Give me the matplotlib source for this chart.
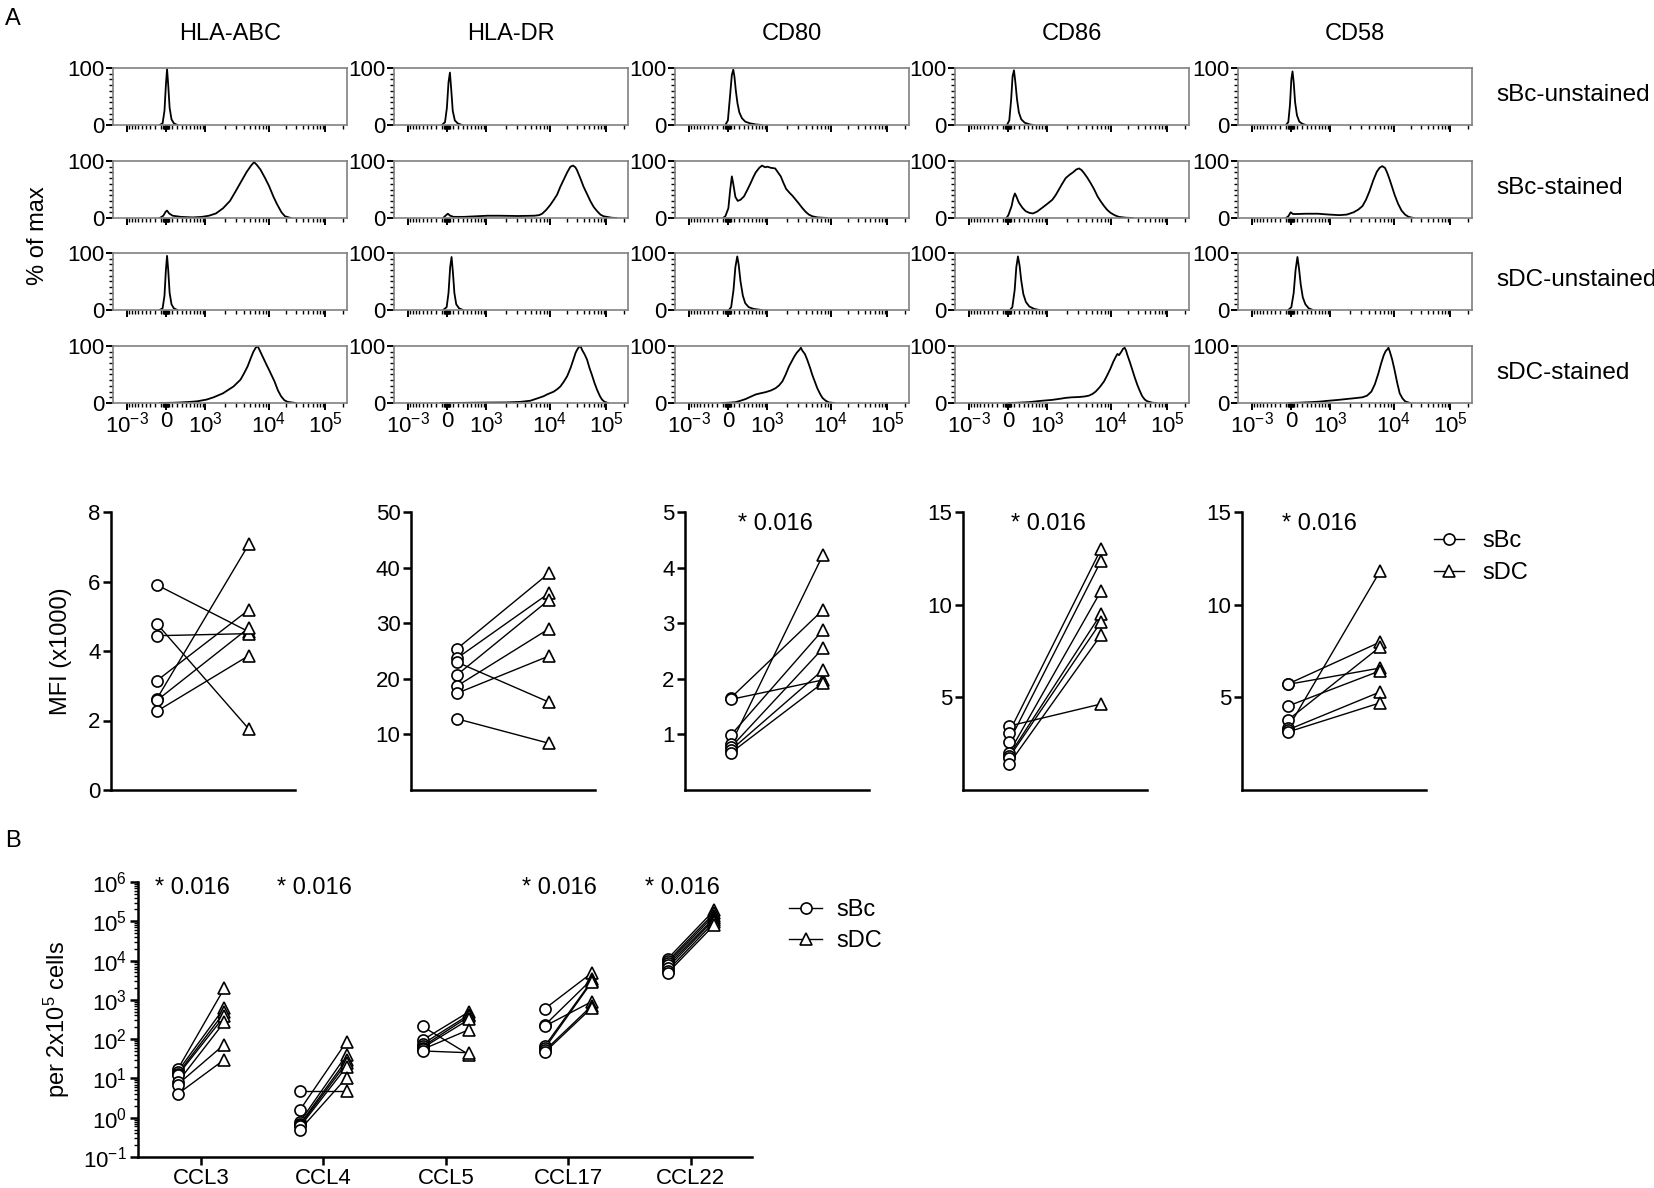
import numpy as np
import matplotlib
matplotlib.use('Agg')
import matplotlib.pyplot as plt
from matplotlib.lines import Line2D
from matplotlib.ticker import FixedLocator, NullFormatter, LogLocator

plt.rcParams['font.family'] = ['Liberation Sans', 'DejaVu Sans']
plt.rcParams['mathtext.default'] = 'regular'

# ---------------- data ----------------
markers = ['HLA-ABC', 'HLA-DR', 'CD80', 'CD86', 'CD58']
samples = ['sBc-unstained', 'sBc-stained', 'sDC-unstained', 'sDC-stained']

# histograms: (channel 0-1000 on the biex axis, % of max)
abc_bu = [(200,0),(212,3),(220,25),(226,70),(231,98),(236,70),(242,30),(250,10),(260,3),(275,0)]
abc_bs = [(200,0),(215,4),(225,11),(231,13),(240,8),(255,4),(290,2),(340,1),(380,2),(410,4),(440,8),(470,17),
          (500,30),(520,44),(545,62),(570,80),(590,92),(603,98),(615,93),(630,85),(650,70),(667,56),(685,38),
          (700,25),(720,10),(735,3),(760,0)]
abc_du = [(200,0),(212,3),(220,25),(226,70),(231,95),(236,70),(242,30),(250,10),(260,3),(275,0)]
abc_ds = [(200,0),(260,0.5),(290,1),(330,2),(360,3),(400,6),(430,10),(470,17),(515,29),(545,41),(560,52),
          (575,64),(590,80),(600,90),(610,97),(618,100),(625,94),(640,81),(655,68),(667,58),(690,38),(705,22),
          (718,12),(732,5),(746,2),(780,0)]

dr_bu = [(205,0),(218,5),(226,30),(233,75),(239,92),(245,60),(251,25),(260,8),(272,3),(290,0)]
dr_bs = [(210,0),(220,4),(230,7.5),(240,4),(255,2),(300,2),(350,3),(400,4),(450,4),(530,3.5),(600,4),(620,5),
         (633,7.5),(650,14),(668,23),(683,32),(697,41),(711,55),(725,67),(740,80),(754,90),(765,92),(775,89),
         (782,84),(796,70),(810,55),(825,42),(840,29),(854,19),(868,12),(882,6),(896,3),(930,0.5),(950,0)]
dr_du = [(210,0),(225,5),(233,30),(240,75),(246,93),(252,65),(258,30),(266,10),(278,3),(295,0)]
dr_ds = [(200,0),(300,0.3),(400,0.8),(480,1),(540,2),(583,4),(612,8),(640,12),(654,15),(683,20),(700,25),
         (711,29),(725,37),(740,47),(755,62),(768,78),(776,88),(782,93),(790,98),(797,100),(804,93),(815,85),
         (825,76),(835,62),(846,49),(857,35),(868,23),(880,12),(889,6),(900,2),(915,0)]

cd80_bu = [(215,0),(226,8),(235,50),(243,88),(249,97),(254,85),(260,60),(267,38),(275,22),(286,12),(300,6),
           (320,3),(345,1),(370,0)]
cd80_bs = [(205,0),(215,3),(228,17),(236,50),(243,73),(249,60),(258,37),(268,30),(280,32),(295,38),(310,50),
           (323,61),(335,72),(345,80),(360,88),(372,92),(385,89),(395,90),(410,88),(428,87),(440,80),(452,73),
           (463,62),(475,51),(490,44),(502,39),(516,32),(530,25),(545,17),(558,11),(572,6),(587,3),(610,1),(650,0)]
cd80_du = [(230,0),(240,5),(250,35),(258,75),(266,94),(272,80),(280,50),(290,25),(300,12),(315,5),(335,2),(370,0)]
cd80_ds = [(200,0),(230,0.5),(259,1.5),(280,4),(302,7),(323,11),(345,15),(365,17),(387,19),(410,22),(430,26),
           (445,31),(459,38),(473,50),(487,64),(500,74),(509,81),(520,88),(533,94),(538,97),(544,92),(555,86),
           (565,76),(577,62),(587,49),(598,37),(608,26),(620,16),(630,9),(644,4),(658,1),(680,0)]

cd86_bu = [(222,0),(232,8),(240,45),(246,85),(252,96),(258,75),(265,45),(273,22),(283,10),(298,4),(320,1),(335,0)]
cd86_bs = [(220,0),(228,5),(235,13),(242,21),(249,35),(256,43),(262,38),(273,27),(288,18),(302,12),(318,9),
           (333,8),(350,11),(373,18),(395,25),(416,32),(430,40),(444,50),(458,60),(473,70),(490,76),(504,80),
           (518,85),(530,87),(541,84),(551,79),(565,71),(580,61),(595,50),(609,38),(623,29),(637,21),(651,14),
           (665,9),(682,5),(700,2),(730,0.5),(760,0)]
cd86_du = [(235,0),(245,5),(255,35),(262,75),(269,94),(276,78),(283,52),(292,28),(303,14),(318,6),(338,2),(360,0)]
cd86_ds = [(230,0),(270,0.5),(316,1.5),(360,3.5),(416,5.5),(450,7.5),(473,9),(500,10),(530,10.5),(555,11.5),
           (573,13),(588,16),(601,20),(619,28),(637,38),(651,49),(665,61),(676,72),(687,81),(694,86),(701,84),
           (711,90),(718,95),(725,97),(731,92),(736,85),(747,72),(758,58),(768,45),(779,32),(790,21),(800,12),
           (811,6),(822,3),(843,0.5),(860,0)]

cd58_bu = [(205,0),(215,5),(222,35),(228,80),(233,94),(238,75),(244,40),(252,17),(262,6),(275,2),(290,0)]
cd58_bs = [(205,0),(215,3),(225,10),(235,7),(251,7),(290,7.5),(342,7.5),(390,6),(433,5),(465,6),(494,10),
           (515,15),(532,21),(547,32),(562,47),(578,66),(593,81),(605,88),(616,91),(628,88),(637,80),(646,70),
           (658,55),(669,41),(684,25),(699,13),(714,6),(729,2),(750,0)]
cd58_du = [(215,0),(228,5),(238,30),(246,70),(254,93),(261,72),(268,45),(277,22),(288,10),(302,3),(320,0)]
cd58_ds = [(215,0),(260,0.5),(312,1.5),(350,2.5),(388,4),(430,5.5),(464,7),(500,8.5),(532,10),(552,13),
           (570,20),(585,33),(600,52),(612,70),(623,84),(631,91),(638,94),(643,97),(649,90),(659,76),(669,58),
           (680,36),(691,17),(703,8),(714,3),(735,0)]

hists = [[abc_bu, abc_bs, abc_du, abc_ds],
         [dr_bu, dr_bs, dr_du, dr_ds],
         [cd80_bu, cd80_bs, cd80_du, cd80_ds],
         [cd86_bu, cd86_bs, cd86_du, cd86_ds],
         [cd58_bu, cd58_bs, cd58_du, cd58_ds]]

# MFI (x1000), paired sBc -> sDC
mfi_sbc_abc = [5.9, 4.78, 4.44, 3.15, 2.63, 2.58, 2.27]
mfi_sdc_abc = [4.55, 1.75, 4.5, 5.19, 7.08, 4.67, 3.87]
mfi_sbc_dr = [25.4, 23.7, 23.0, 20.7, 18.7, 17.4, 12.8]
mfi_sdc_dr = [39.0, 35.4, 15.8, 34.2, 29.0, 24.1, 8.4]
mfi_sbc_cd80 = [1.66, 1.63, 0.99, 0.83, 0.77, 0.72, 0.67]
mfi_sdc_cd80 = [3.24, 1.98, 2.88, 4.23, 2.55, 2.16, 1.93]
mfi_sbc_cd86 = [3.45, 3.1, 2.6, 2.0, 1.85, 1.75, 1.4]
mfi_sdc_cd86 = [4.64, 13.0, 12.36, 10.74, 9.5, 9.07, 8.36]
mfi_sbc_cd58 = [5.72, 5.70, 4.53, 3.78, 3.34, 3.25, 3.13]
mfi_sdc_cd58 = [7.98, 6.58, 6.43, 7.72, 11.8, 5.29, 4.7]
mfi_sbc = [mfi_sbc_abc, mfi_sbc_dr, mfi_sbc_cd80, mfi_sbc_cd86, mfi_sbc_cd58]
mfi_sdc = [mfi_sdc_abc, mfi_sdc_dr, mfi_sdc_cd80, mfi_sdc_cd86, mfi_sdc_cd58]
mfi_ymax = [8, 50, 5, 15, 15]
mfi_yticks = [[0, 2, 4, 6, 8], [10, 20, 30, 40, 50], [1, 2, 3, 4, 5], [5, 10, 15], [5, 10, 15]]
mfi_pval = [None, None, '* 0.016', '* 0.016', '* 0.016']

# chemokines per 2x10^5 cells
chemokines = ['CCL3', 'CCL4', 'CCL5', 'CCL17', 'CCL22']
ccl3_sbc = [17, 15, 13, 12, 8, 7, 4]
ccl3_sdc = [1950, 630, 480, 380, 270, 73, 30]
ccl4_sbc = [4.7, 1.6, 0.8, 0.7, 0.65, 0.6, 0.5]
ccl4_sdc = [4.7, 87, 40, 30, 25, 20, 10.5]
ccl5_sbc = [210, 95, 75, 65, 60, 55, 50]
ccl5_sdc = [40, 500, 420, 380, 320, 175, 45]
ccl17_sbc = [600, 230, 215, 68, 60, 52, 47]
ccl17_sdc = [4800, 3300, 900, 3000, 2800, 700, 620]
ccl22_sbc = [11000, 9500, 8500, 7500, 6500, 5500, 4800]
ccl22_sdc = [190000, 160000, 140000, 120000, 110000, 95000, 80000]
ccl_sbc = [ccl3_sbc, ccl4_sbc, ccl5_sbc, ccl17_sbc, ccl22_sbc]
ccl_sdc = [ccl3_sdc, ccl4_sdc, ccl5_sdc, ccl17_sdc, ccl22_sdc]
ccl_pval = ['* 0.016', '* 0.016', None, '* 0.016', '* 0.016']

# ---------------- figure ----------------
W, H = 1654, 1188
fig = plt.figure(figsize=(W / 100, H / 100), dpi=100)


def box(left, top, width, height):
    return [left / W, 1 - (top + height) / H, width / W, height / H]


def chan(v):
    # biexponential display channel for a fluorescence value (axis ticks only)
    if v <= 1000:
        return 227 + 111.8 * np.arcsinh(v / 470.0)
    if v <= 1e4:
        return 395 + 271 * np.log10(v / 1e3)
    return 666 + 242 * np.log10(v / 1e4)


major_v = [-1000, 0, 1000, 1e4, 1e5]
major_lab = ['$10^{-3}$', '0', '$10^{3}$', '$10^{4}$', '$10^{5}$']
minor_v = (list(range(-900, 0, 100)) + [-50, -40, -30, -20, -10, 10, 20, 30, 40, 50] +
           list(range(100, 1000, 100)) + list(range(2000, 10000, 1000)) +
           list(range(20000, 100000, 10000)) + [200000])

col_left = [113, 394, 675, 955, 1238]
row_top = [68, 161, 253, 346]
gray = '#808080'

for c in range(5):
    for r in range(4):
        ax = fig.add_axes(box(col_left[c], row_top[r], 234, 57))
        pts = hists[c][r]
        ax.plot([p[0] for p in pts], [p[1] for p in pts], color='k', lw=1.3)
        ax.set_xlim(0, 1000)
        ax.set_ylim(0, 100)
        for s in ax.spines.values():
            s.set_color(gray)
            s.set_linewidth(1.2)
        ax.xaxis.set_major_locator(FixedLocator([chan(v) for v in major_v]))
        ax.xaxis.set_minor_locator(FixedLocator([chan(v) for v in minor_v]))
        ax.yaxis.set_major_locator(FixedLocator([0, 100]))
        ax.yaxis.set_minor_locator(FixedLocator(list(range(10, 100, 10))))
        ax.tick_params(which='major', direction='out', length=5, width=1.4, color='k',
                       labelsize=16, pad=1)
        ax.tick_params(which='minor', direction='out', length=3, width=1.0, color='k')
        ax.set_yticklabels(['0', '100'])
        if r == 3:
            ax.set_xticklabels(major_lab)
        else:
            ax.xaxis.set_major_formatter(NullFormatter())
        if r == 0:
            ax.set_title(markers[c], fontsize=17, pad=20)
        if c == 4:
            ax.text(1496 / W, 1 - (row_top[r] + 27) / H, samples[r], transform=fig.transFigure,
                    fontsize=17.5, va='center', ha='left')

fig.text(38 / W, 1 - 236 / H, '% of max', rotation=90, fontsize=17, ha='center', va='center')
fig.text(5 / W, 1 - 8 / H, 'A', fontsize=17, ha='left', va='top')
fig.text(5 / W, 1 - 830 / H, 'B', fontsize=17, ha='left', va='top')

# ---------------- MFI panels ----------------
mfi_left = [111, 411, 685, 963, 1242]
pval_x = [0, 0, 0.29, 0.26, 0.22]
mk = dict(mfc='white', mec='k', mew=1.2, ms=8, ls='none', zorder=3, clip_on=False)
for i in range(5):
    ax = fig.add_axes(box(mfi_left[i], 512, 184, 278))
    for a, b in zip(mfi_sbc[i], mfi_sdc[i]):
        ax.plot([0, 1], [a, b], color='k', lw=1.0, zorder=2)
    ax.plot(np.zeros(len(mfi_sbc[i])), mfi_sbc[i], marker='o', **mk)
    ax.plot(np.ones(len(mfi_sdc[i])), mfi_sdc[i], marker='^', **mk)
    ax.set_xlim(-0.5, 1.5)
    ax.set_ylim(0, mfi_ymax[i])
    ax.set_yticks(mfi_yticks[i])
    ax.set_xticks([])
    for s in ['top', 'right']:
        ax.spines[s].set_visible(False)
    for s in ['left', 'bottom']:
        ax.spines[s].set_linewidth(1.8)
    ax.tick_params(axis='y', direction='out', length=5.5, width=1.8, labelsize=16, pad=2)
    if mfi_pval[i]:
        ax.text(pval_x[i], 0.957, mfi_pval[i], transform=ax.transAxes, fontsize=17,
                ha='left', va='center')
    if i == 0:
        ax.set_ylabel('MFI (x1000)', fontsize=17, labelpad=12)

h_sbc = Line2D([], [], color='k', lw=1.0, marker='o', mfc='white', mec='k', mew=1.2, ms=8)
h_sdc = Line2D([], [], color='k', lw=1.0, marker='^', mfc='white', mec='k', mew=1.2, ms=8)
fig.legend([h_sbc, h_sdc], ['sBc', 'sDC'], loc='upper left', bbox_to_anchor=(1434 / W, 1 - 530 / H),
           frameon=False, fontsize=17, handlelength=1.25, handletextpad=0.8, labelspacing=0.42,
           borderpad=0, borderaxespad=0)

# ---------------- panel B ----------------
ax = fig.add_axes(box(138, 882, 614, 275))
off = 0.19
for j in range(5):
    for a, b in zip(ccl_sbc[j], ccl_sdc[j]):
        ax.plot([j - off, j + off], [a, b], color='k', lw=1.0, zorder=2)
    ax.plot(np.full(7, j - off), ccl_sbc[j], marker='o', **mk)
    ax.plot(np.full(7, j + off), ccl_sdc[j], marker='^', **mk)
    if ccl_pval[j]:
        ax.text(j - 0.07, 0.978, ccl_pval[j], transform=ax.get_xaxis_transform(), fontsize=17,
                ha='center', va='center')
ax.set_yscale('log')
ax.set_ylim(0.1, 1e6)
ax.set_xlim(-0.514, 4.5)
ax.set_xticks(range(5))
ax.set_xticklabels(chemokines)
ax.yaxis.set_major_locator(FixedLocator([10.0 ** k for k in range(-1, 7)]))
ax.set_yticklabels(['$10^{%d}$' % k for k in range(-1, 7)])
ax.yaxis.set_minor_locator(LogLocator(base=10, subs=np.arange(2, 10), numticks=20))
ax.yaxis.set_minor_formatter(NullFormatter())
for s in ['top', 'right']:
    ax.spines[s].set_visible(False)
for s in ['left', 'bottom']:
    ax.spines[s].set_linewidth(1.8)
ax.tick_params(which='major', direction='out', length=6, width=1.8, labelsize=16, pad=2)
ax.tick_params(which='minor', direction='out', length=3, width=1.0)
ax.set_ylabel('per 2x10$^{5}$ cells', fontsize=17, labelpad=8)

fig.legend([h_sbc, h_sdc], ['sBc', 'sDC'], loc='upper left', bbox_to_anchor=(789 / W, 1 - 899 / H),
           frameon=False, fontsize=17, handlelength=1.4, handletextpad=0.6, labelspacing=0.38,
           borderpad=0, borderaxespad=0)

fig.savefig('out.png', dpi=100)
